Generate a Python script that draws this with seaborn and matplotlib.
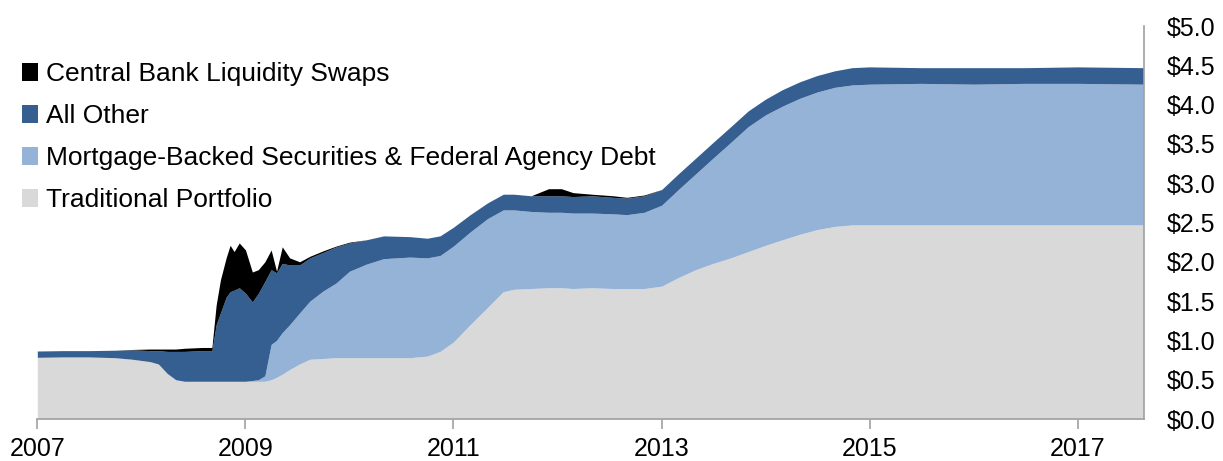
import pandas as pd
import numpy as np
import matplotlib
matplotlib.use("Agg")
import matplotlib.pyplot as plt
from matplotlib.patches import Patch
import seaborn as sns

# Dates of the readings (irregular, denser around the 2008 crisis)
dates = [
    "2007-01-01", "2007-04-01", "2007-07-01", "2007-10-01", "2007-12-01",
    "2008-02-01", "2008-03-01", "2008-04-01", "2008-05-01", "2008-06-01",
    "2008-08-01", "2008-09-05", "2008-09-20", "2008-10-05", "2008-10-25",
    "2008-11-08", "2008-11-22", "2008-12-10", "2009-01-01", "2009-01-25",
    "2009-02-15", "2009-03-10", "2009-04-01", "2009-04-20", "2009-05-10",
    "2009-06-05", "2009-07-10", "2009-08-15", "2009-10-01", "2009-11-15",
    "2010-01-01", "2010-03-01", "2010-05-01", "2010-08-01", "2010-10-01",
    "2010-11-15", "2011-01-01", "2011-03-01", "2011-05-01", "2011-06-25",
    "2011-08-01", "2011-10-01", "2011-12-01", "2012-01-15", "2012-02-25",
    "2012-05-01", "2012-07-15", "2012-09-01", "2012-11-01", "2013-01-01",
    "2013-03-01", "2013-05-01", "2013-07-01", "2013-09-01", "2013-11-01",
    "2014-01-01", "2014-03-01", "2014-05-01", "2014-07-01", "2014-09-01",
    "2014-11-01", "2015-01-01", "2015-07-01", "2016-01-01", "2016-07-01",
    "2017-01-01", "2017-08-20",
]

# Levels (top of each band, $ trillions)
traditional_top = [
    0.785, 0.79, 0.79, 0.78, 0.76,
    0.73, 0.70, 0.58, 0.50, 0.48,
    0.48, 0.48, 0.48, 0.48, 0.48,
    0.48, 0.48, 0.48, 0.48, 0.48,
    0.48, 0.48, 0.50, 0.53, 0.57,
    0.63, 0.70, 0.76, 0.77, 0.78,
    0.78, 0.78, 0.78, 0.78, 0.80,
    0.86, 0.98, 1.20, 1.42, 1.62,
    1.65, 1.66, 1.67, 1.67, 1.66,
    1.67, 1.66, 1.66, 1.66, 1.69,
    1.80, 1.90, 1.98, 2.05, 2.13,
    2.21, 2.28, 2.35, 2.41, 2.45,
    2.47, 2.47, 2.47, 2.47, 2.47,
    2.47, 2.47,
]
mbs_top = [
    0.785, 0.79, 0.79, 0.78, 0.76,
    0.73, 0.70, 0.58, 0.50, 0.48,
    0.48, 0.48, 0.48, 0.48, 0.48,
    0.48, 0.48, 0.48, 0.48, 0.49,
    0.50, 0.55, 0.95, 1.00, 1.10,
    1.20, 1.35, 1.50, 1.63, 1.73,
    1.88, 1.97, 2.04, 2.06, 2.05,
    2.08, 2.20, 2.38, 2.55, 2.66,
    2.66, 2.64, 2.63, 2.63, 2.62,
    2.62, 2.61, 2.60, 2.63, 2.72,
    2.92, 3.12, 3.32, 3.52, 3.72,
    3.87, 3.98, 4.08, 4.16, 4.22,
    4.25, 4.26, 4.27, 4.26, 4.27,
    4.27, 4.26,
]
other_top = [
    0.865, 0.87, 0.87, 0.875, 0.88,
    0.87, 0.87, 0.86, 0.86, 0.86,
    0.87, 0.87, 1.20, 1.35, 1.55,
    1.62, 1.64, 1.67, 1.60, 1.49,
    1.60, 1.75, 1.90, 1.86, 1.98,
    1.96, 1.96, 2.05, 2.12, 2.19,
    2.24, 2.28, 2.33, 2.32, 2.30,
    2.33, 2.44, 2.60, 2.75, 2.86,
    2.86, 2.84, 2.84, 2.84, 2.83,
    2.84, 2.82, 2.81, 2.84, 2.92,
    3.12, 3.32, 3.52, 3.72, 3.92,
    4.07, 4.19, 4.29, 4.37, 4.43,
    4.47, 4.48, 4.47, 4.47, 4.47,
    4.48, 4.47,
]
total_top = [
    0.865, 0.87, 0.87, 0.875, 0.885,
    0.89, 0.89, 0.89, 0.89, 0.90,
    0.91, 0.91, 1.45, 1.77, 2.05,
    2.21, 2.13, 2.24, 2.15, 1.87,
    1.90, 2.00, 2.15, 1.88, 2.19,
    2.05, 2.00, 2.07, 2.14, 2.20,
    2.25, 2.28, 2.33, 2.32, 2.30,
    2.33, 2.44, 2.60, 2.75, 2.86,
    2.86, 2.84, 2.93, 2.93, 2.88,
    2.86, 2.84, 2.82, 2.85, 2.92,
    3.12, 3.32, 3.52, 3.72, 3.92,
    4.07, 4.19, 4.29, 4.37, 4.43,
    4.47, 4.48, 4.47, 4.47, 4.47,
    4.48, 4.47,
]

x_ticks = ["2007", "2009", "2011", "2013", "2015", "2017"]
y_ticks = [0.0, 0.5, 1.0, 1.5, 2.0, 2.5, 3.0, 3.5, 4.0, 4.5, 5.0]

labels = ["Traditional Portfolio", "Mortgage-Backed Securities & Federal Agency Debt",
          "All Other", "Central Bank Liquidity Swaps"]
colors = ["#D9D9D9", "#95B3D7", "#365F91", "#000000"]

df = pd.DataFrame({
    "date": pd.to_datetime(dates),
    "traditional": traditional_top,
    "mbs": np.array(mbs_top) - np.array(traditional_top),
    "other": np.array(other_top) - np.array(mbs_top),
    "swaps": np.array(total_top) - np.array(other_top),
})

sns.set_style("white")
plt.rcParams["font.family"] = ["Liberation Sans", "DejaVu Sans"]
plt.rcParams["text.color"] = "black"
plt.rcParams["xtick.labelcolor"] = "black"
plt.rcParams["ytick.labelcolor"] = "black"

fig = plt.figure(figsize=(12.23, 4.61), dpi=100)
ax = fig.add_axes([0.0305, 0.0911, 0.9045, 0.8525])

ax.stackplot(df["date"], df["traditional"], df["mbs"], df["other"], df["swaps"],
             colors=colors, linewidth=0)

ax.set_xlim(pd.Timestamp("2007-01-01"), pd.Timestamp("2017-08-20"))
ax.set_ylim(0, 5)
ax.set_xticks(pd.to_datetime([f"{y}-01-01" for y in x_ticks]))
ax.set_xticklabels(x_ticks)

ax.yaxis.tick_right()
ax.set_yticks(y_ticks)
ax.set_yticklabels([f"${v:.1f}" for v in y_ticks])

for s in ["top", "left"]:
    ax.spines[s].set_visible(False)
for s in ["bottom", "right"]:
    ax.spines[s].set_visible(True)
    ax.spines[s].set_color("#A0A0A0")
    ax.spines[s].set_linewidth(1.2)

ax.tick_params(axis="x", direction="out", length=7, width=1.2, color="#A0A0A0",
               labelsize=18, labelcolor="black", pad=6, bottom=True)
ax.tick_params(axis="y", length=0, labelsize=18, labelcolor="black", pad=17,
               right=True, left=False)

handles = [Patch(facecolor=c, edgecolor="none") for c in colors[::-1]]
leg = ax.legend(handles, labels[::-1], loc="upper left", bbox_to_anchor=(0.018, 0.865),
                bbox_transform=fig.transFigure, frameon=False, fontsize=19,
                handlelength=0.6, handleheight=0.7, handletextpad=0.3,
                labelspacing=0.68, borderpad=0, borderaxespad=0)
for t in leg.get_texts():
    t.set_color("black")

fig.savefig("out.png", dpi=100)
